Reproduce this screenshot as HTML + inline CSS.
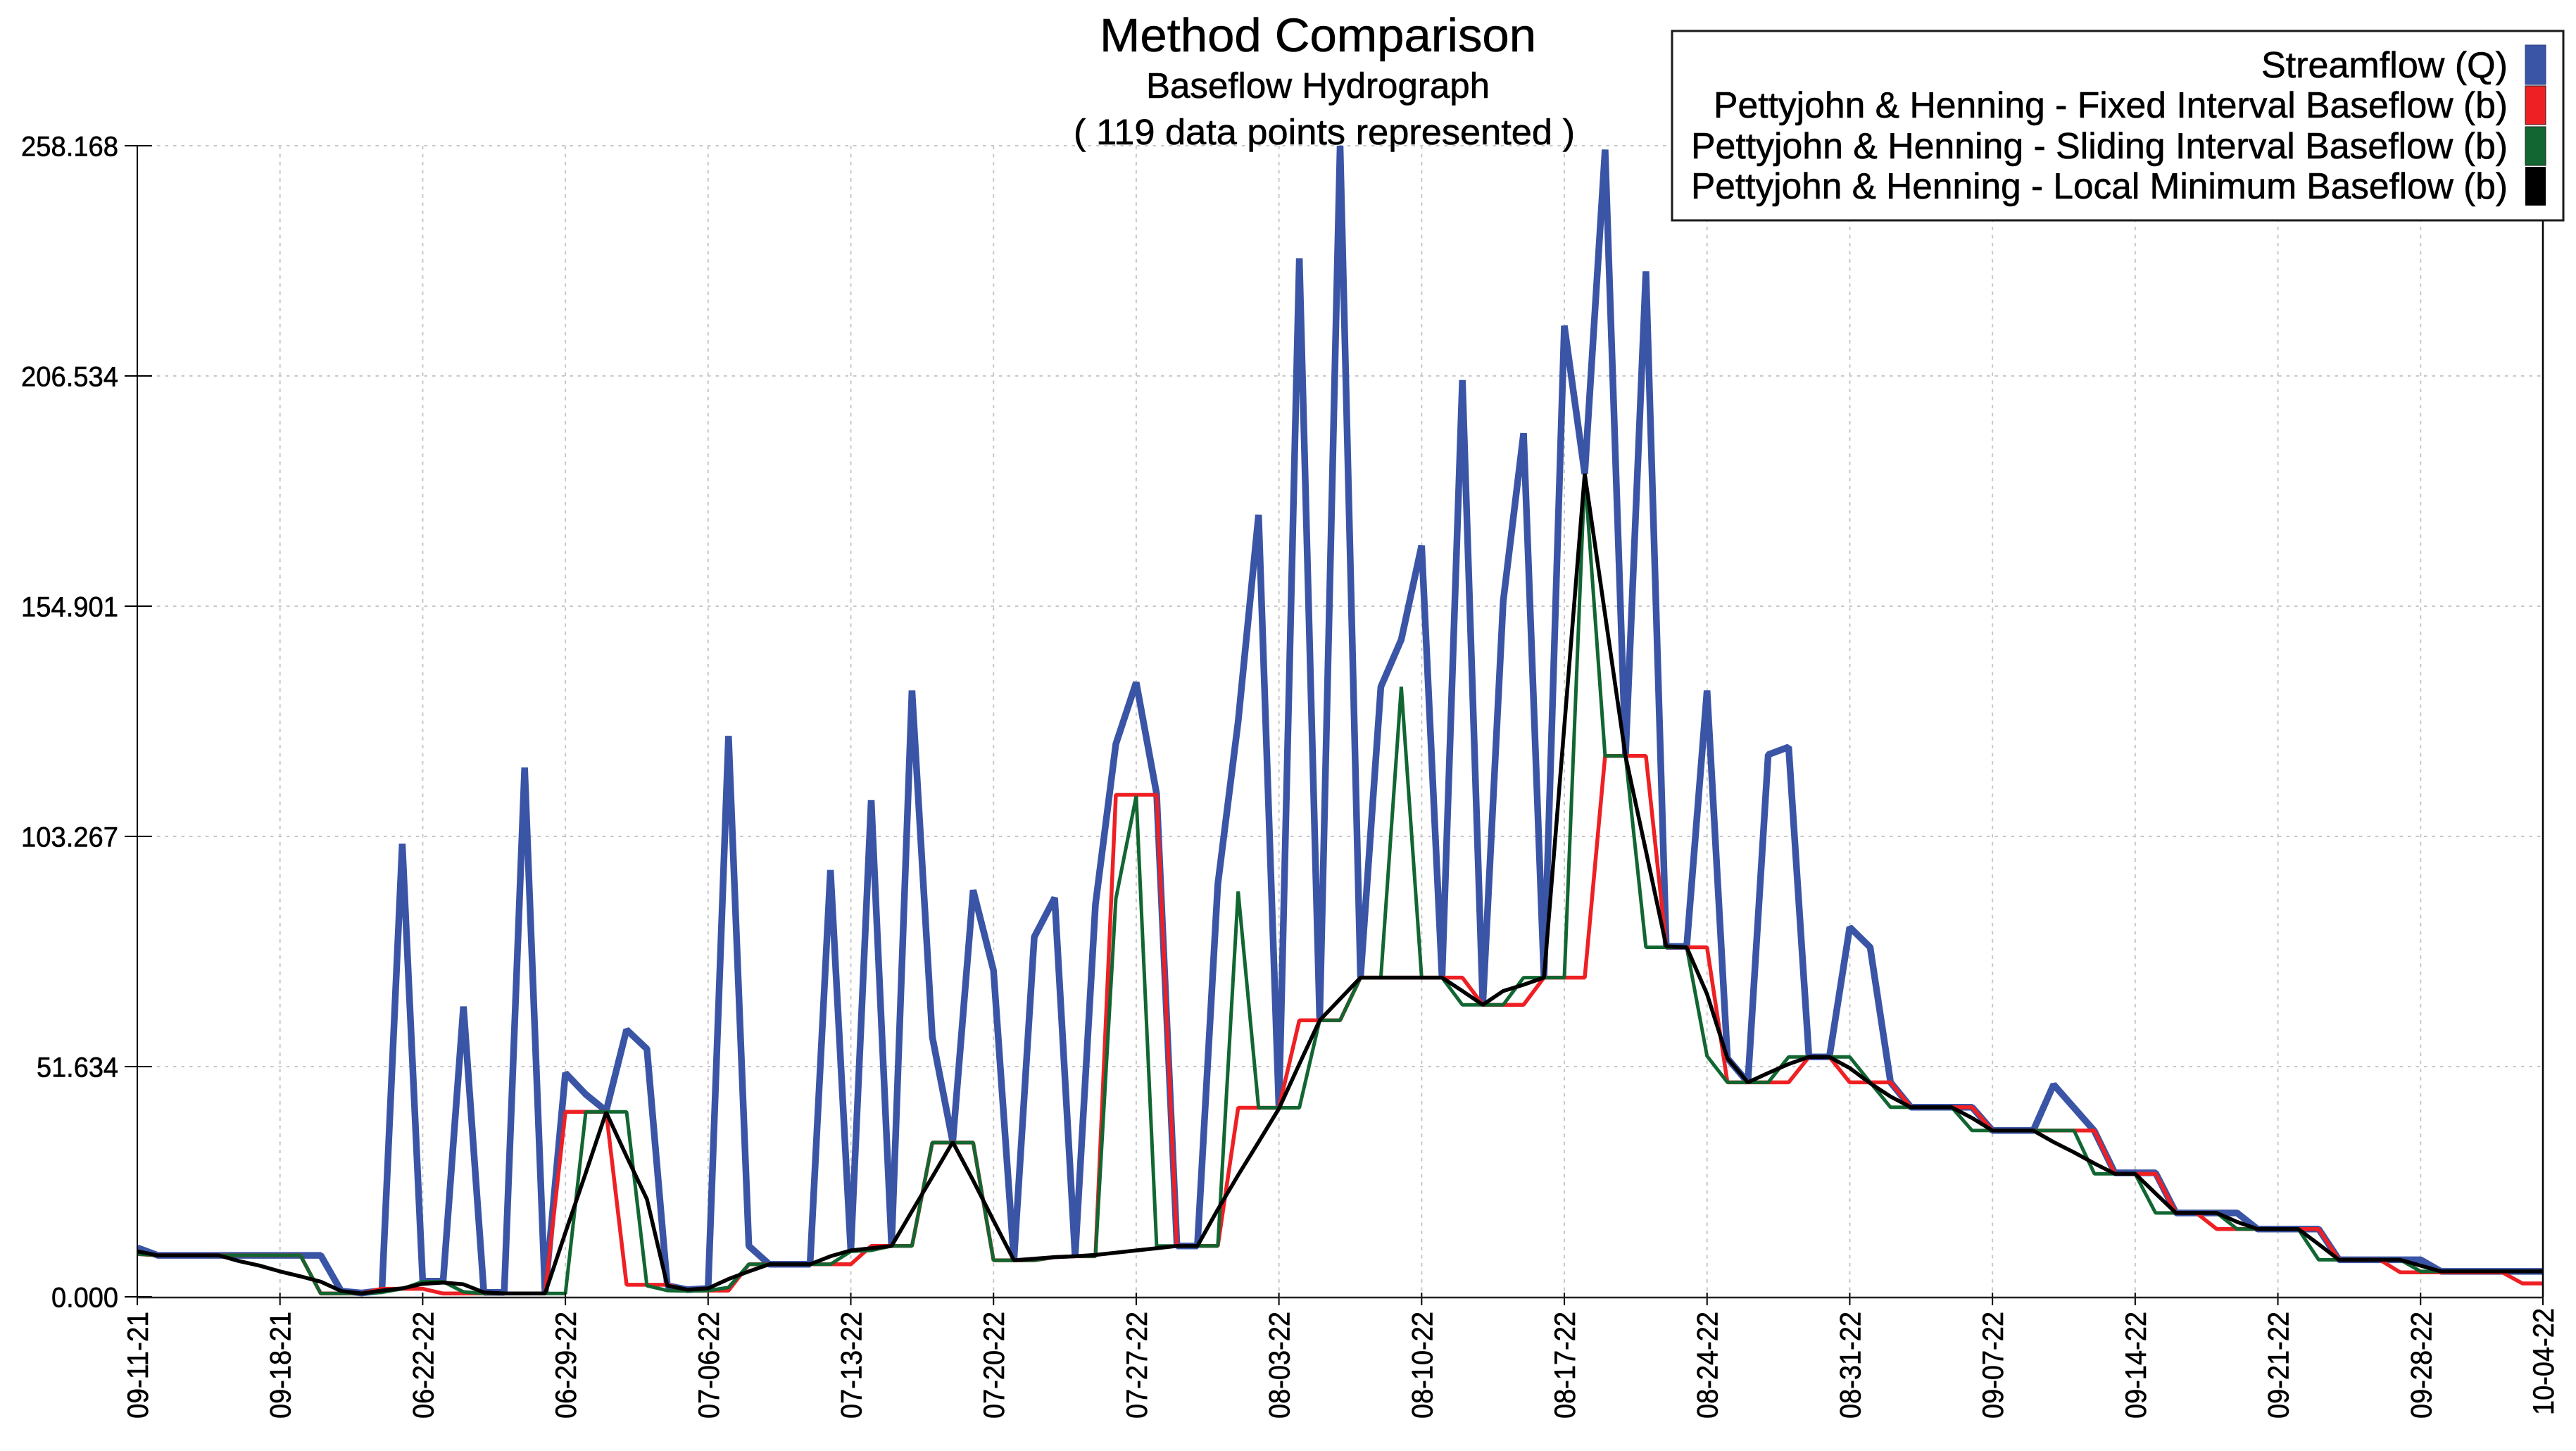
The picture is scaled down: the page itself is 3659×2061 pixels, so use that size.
<!DOCTYPE html>
<html lang="en">
<head>
<meta charset="utf-8">
<title>Method Comparison</title>
<style>
html,body{margin:0;padding:0;background:#fff;}
svg{display:block;}
text{font-family:"Liberation Sans",sans-serif;fill:#000;stroke:#000;stroke-width:0.6px;}
</style>
</head>
<body>
<svg id="chart" xmlns="http://www.w3.org/2000/svg" width="3659" height="2061" viewBox="0 0 3659 2061">
  <defs>
    <clipPath id="plot-clip"><rect x="195" y="200" width="3417" height="1645"/></clipPath>
  </defs>
  <rect x="0" y="0" width="3659" height="2061" fill="#ffffff"/>
  <g id="grid"></g>
  <g id="series" clip-path="url(#plot-clip)"></g>
  <g id="axes"></g>

  <text x="1562" y="73" font-size="67" textLength="620" lengthAdjust="spacingAndGlyphs">Method Comparison</text>
  <text x="1628" y="139" font-size="51" textLength="488" lengthAdjust="spacingAndGlyphs">Baseflow Hydrograph</text>
  <text x="1525" y="205" font-size="51" textLength="712" lengthAdjust="spacingAndGlyphs">( 119 data points represented )</text>

  <g>
    <rect x="2375" y="44" width="1266" height="269" fill="#ffffff" stroke="#1a1a1a" stroke-width="3"/>
    <text x="3212" y="110" font-size="52" textLength="350" lengthAdjust="spacingAndGlyphs">Streamflow (Q)</text>
    <text x="2434" y="167" font-size="52" textLength="1128" lengthAdjust="spacingAndGlyphs">Pettyjohn &amp; Henning - Fixed Interval Baseflow (b)</text>
    <text x="2402" y="225" font-size="52" textLength="1160" lengthAdjust="spacingAndGlyphs">Pettyjohn &amp; Henning - Sliding Interval Baseflow (b)</text>
    <text x="2402" y="282" font-size="52" textLength="1160" lengthAdjust="spacingAndGlyphs">Pettyjohn &amp; Henning - Local Minimum Baseflow (b)</text>
    <rect x="3587" y="64" width="29" height="56" fill="#3a54a6" stroke="#2c3f80" stroke-width="1"/>
    <rect x="3587" y="122" width="29" height="55" fill="#ee2024" stroke="#222222" stroke-width="1"/>
    <rect x="3587" y="180" width="29" height="55" fill="#116631" stroke="#222222" stroke-width="1"/>
    <rect x="3587" y="237" width="29" height="55" fill="#000000"/>
  </g>
</svg>
<script>
const yTickValues = [0, 51.634, 103.267, 154.901, 206.534, 258.168];
const yTickLabels = ["0.000", "51.634", "103.267", "154.901", "206.534", "258.168"];
const xTickIndices = [0, 7, 14, 21, 28, 35, 42, 49, 56, 63, 70, 77, 84, 91, 98, 105, 112, 118];
const xTickLabels = ["09-11-21", "09-18-21", "06-22-22", "06-29-22", "07-06-22", "07-13-22", "07-20-22", "07-27-22", "08-03-22", "08-10-22", "08-17-22", "08-24-22", "08-31-22", "09-07-22", "09-14-22", "09-21-22", "09-28-22", "10-04-22"];

const streamflow = [
  11,9.3,9.3,9.3,9.3,9.3,9.3,9.3,9.3,9.3,
  1.3,.85,1.4,101.6,3.5,3.5,65.1,1,1,118.7,
  .7,50.2,45.4,41.7,59.9,55.6,2.5,1.6,1.9,125.8,
  11.4,7.3,7.3,7.3,95.7,10.2,111.4,11.4,136,58.3,
  34.7,91.2,73.2,8.2,80.7,89.5,9.1,88,124,137.8,
  112.8,11.4,11.4,92.5,129,175.4,42.2,232.9,62,258.168,
  71.6,136.8,147.4,168.5,71.6,205.6,65.5,156,193.7,71.6,
  217.8,184.6,257.3,121.3,230,78.6,78.6,136,53.5,48.1,
  121.6,123.3,53.8,53.8,82.9,78.4,48.1,42.5,42.5,42.5,
  42.5,37.3,37.3,37.3,47.6,42.4,37.2,27.8,27.8,27.8,
  18.8,18.8,18.8,18.8,15.2,15.2,15.2,15.2,8.3,8.3,
  8.3,8.3,8.3,5.7,5.7,5.7,5.7,5.7,5.7
];
const fixedInterval = [
  9.6,9.3,9.3,9.3,9.3,9.3,9.3,9.3,9.3,.75,
  .75,.75,1.8,1.8,1.8,.75,.75,.75,.75,.75,
  .75,41.5,41.5,41.5,2.7,2.7,2.7,1.4,1.4,1.4,
  7.3,7.3,7.3,7.3,7.3,7.3,11.4,11.4,11.4,34.6,
  34.6,34.6,8.2,8.2,8.2,8.9,9.1,9.1,112.6,112.6,
  112.6,11.4,11.4,11.4,42.4,42.4,42.4,62,62,62,
  71.6,71.6,71.6,71.6,71.6,71.6,65.5,65.5,65.5,71.6,
  71.6,71.6,121.3,121.3,121.3,78.4,78.4,78.4,48.1,48.1,
  48.1,48.1,53.8,53.8,48.1,48.1,48.1,42.5,42.5,42.5,
  42.5,37.3,37.3,37.3,37.3,37.3,37.3,27.6,27.6,27.6,
  18.8,18.8,15.2,15.2,15.2,15.2,15.2,15.2,8.3,8.3,
  8.3,5.5,5.5,5.5,5.5,5.5,5.5,3,3
];
const slidingInterval = [
  9.6,9.3,9.3,9.3,9.3,9.3,9.3,9.3,9.3,.75,
  .75,.75,1,1.8,3.4,3.4,1.1,.75,.75,.75,
  .75,.75,41.5,41.5,41.5,2.5,1.4,1.3,1.4,2.1,
  7.3,7.3,7.3,7.3,7.3,10.2,10.4,11.4,11.4,34.6,
  34.6,34.6,8.2,8.2,8.2,8.9,9.1,9.1,89.3,112.3,
  11.4,11.4,11.4,11.4,90.9,42.4,42.4,42.4,62,62,
  71.6,71.6,136.8,71.6,71.6,65.5,65.5,65.5,71.6,71.6,
  71.6,184.6,121.3,121.3,78.4,78.4,78.4,54,48.1,48.1,
  48.1,53.8,53.8,53.8,53.8,48.1,42.5,42.5,42.5,42.5,
  37.3,37.3,37.3,37.3,37.3,37.3,27.6,27.6,27.6,18.8,
  18.8,18.8,18.8,15.2,15.2,15.2,15.2,8.3,8.3,8.3,
  8.3,8.3,5.7,5.7,5.7,5.7,5.7,5.7,5.7
];
const localMinimum = [
  10.2,9.3,9.3,9.3,9.3,8,7,5.7,4.6,3.4,
  1.3,.75,1.4,1.9,2.9,3.2,2.8,1,.75,.75,
  .75,14.4,27.8,41.4,31.5,21.9,2.5,1.6,1.9,4,
  5.7,7.3,7.3,7.3,9.1,10.4,10.9,11.4,19.2,26.9,
  34.7,26.1,17.1,8.2,8.55,8.9,9.1,9.4,9.9,10.4,
  10.9,11.4,11.4,19.6,27.3,34.7,42.2,52.2,62,66.8,
  71.6,71.6,71.6,71.6,71.6,68.6,65.5,68.6,70,71.6,
  128,184.6,153,121.3,100,78.6,78.4,67.9,53.5,48.1,
  50.2,52.2,53.8,53.8,51.3,47.9,44.9,42.5,42.5,42.5,
  40.1,37.3,37.3,37.3,34.7,32.4,29.9,27.6,27.6,23.2,
  18.8,18.8,18.8,16.8,15.2,15.2,15.2,11.8,8.3,8.3,
  8.3,8.3,7,5.7,5.7,5.7,5.7,5.7,5.7
];

const NS = "http://www.w3.org/2000/svg";
const plotLeft = 195, plotRight = 3612, plotTop = 207, plotBottom = 1842;
const yMax = yTickValues[yTickValues.length - 1];
const pointCount = streamflow.length;

function xScale(i) {
  return plotLeft + (plotRight - plotLeft) * i / (pointCount - 1);
}
function yScale(v) {
  return plotBottom - (plotBottom - plotTop) * v / yMax;
}
function make(tag, attrs, parent) {
  const el = document.createElementNS(NS, tag);
  Object.keys(attrs).forEach(function (k) { el.setAttribute(k, attrs[k]); });
  parent.appendChild(el);
  return el;
}

const gridGroup = document.getElementById("grid");
const axesGroup = document.getElementById("axes");
const seriesGroup = document.getElementById("series");

/* horizontal grid + y ticks */
yTickValues.forEach(function (v, idx) {
  const y = yScale(v);
  if (v > 0) {
    const gl = make("line", {x1: 223, x2: plotRight, y1: y, y2: y, stroke: "#c8c8c8", "stroke-width": 2, "stroke-dasharray": "4.5 7"}, gridGroup);
    
    
  }
  const t = make("line", {x1: 177, x2: 216, y1: y, y2: y, stroke: "#000", "stroke-width": 2}, axesGroup);
  
  
  const s = yTickLabels[idx];
  const lab = make("text", {x: 168, y: y + 14.5, "font-size": 40, "text-anchor": "end", textLength: (s.length === 7 ? 138 : s.length === 6 ? 116 : 95), lengthAdjust: "spacingAndGlyphs"}, axesGroup);
  lab.textContent = s;
  
  
});

/* vertical grid + x ticks */
xTickIndices.forEach(function (i, idx) {
  const x = xScale(i);
  if (i > 0 && i < pointCount - 1) {
    const gl = make("line", {x1: x, x2: x, y1: plotTop, y2: plotBottom, stroke: "#c8c8c8", "stroke-width": 2, "stroke-dasharray": "5 6.5"}, gridGroup);
    
    
  }
  const t = make("line", {x1: x, x2: x, y1: 1836, y2: 1854, stroke: "#000", "stroke-width": 2}, axesGroup);
  
  
  const endY = i === pointCount - 1 ? 1858 : 1863;
  const lab = make("text", {"font-size": 42, "text-anchor": "end", textLength: 152, lengthAdjust: "spacingAndGlyphs", transform: "translate(" + (x + 15) + "," + endY + ") rotate(-90)"}, axesGroup);
  lab.textContent = xTickLabels[idx];
  
  
});

/* axes */
const yAxisLine = make("line", {x1: plotLeft, x2: plotLeft, y1: plotTop, y2: plotBottom + 1, stroke: "#000", "stroke-width": 2}, axesGroup);


const xAxisLine = make("line", {x1: plotLeft, x2: plotRight + 1, y1: plotBottom + 1, y2: plotBottom + 1, stroke: "#222", "stroke-width": 2.5}, axesGroup);


const rightAxisLine = make("line", {x1: plotRight, x2: plotRight, y1: plotTop, y2: plotBottom + 1, stroke: "#000", "stroke-width": 2.5}, axesGroup);



/* series */
function drawSeries(values, color, width) {
  const d = values.map(function (v, i) {
    return (i === 0 ? "M" : "L") + xScale(i).toFixed(1) + " " + yScale(v).toFixed(1);
  }).join(" ");
  return make("path", {d: d, fill: "none", stroke: color, "stroke-width": width, "stroke-linejoin": "bevel"}, seriesGroup);
}
const streamflowLine = drawSeries(streamflow, "#3a54a6", 9.5);


const fixedLine = drawSeries(fixedInterval, "#ee2024", 5.5);


const slidingLine = drawSeries(slidingInterval, "#116631", 5);


const minimumLine = drawSeries(localMinimum, "#000000", 5.5);


</script>
</body>
</html>
